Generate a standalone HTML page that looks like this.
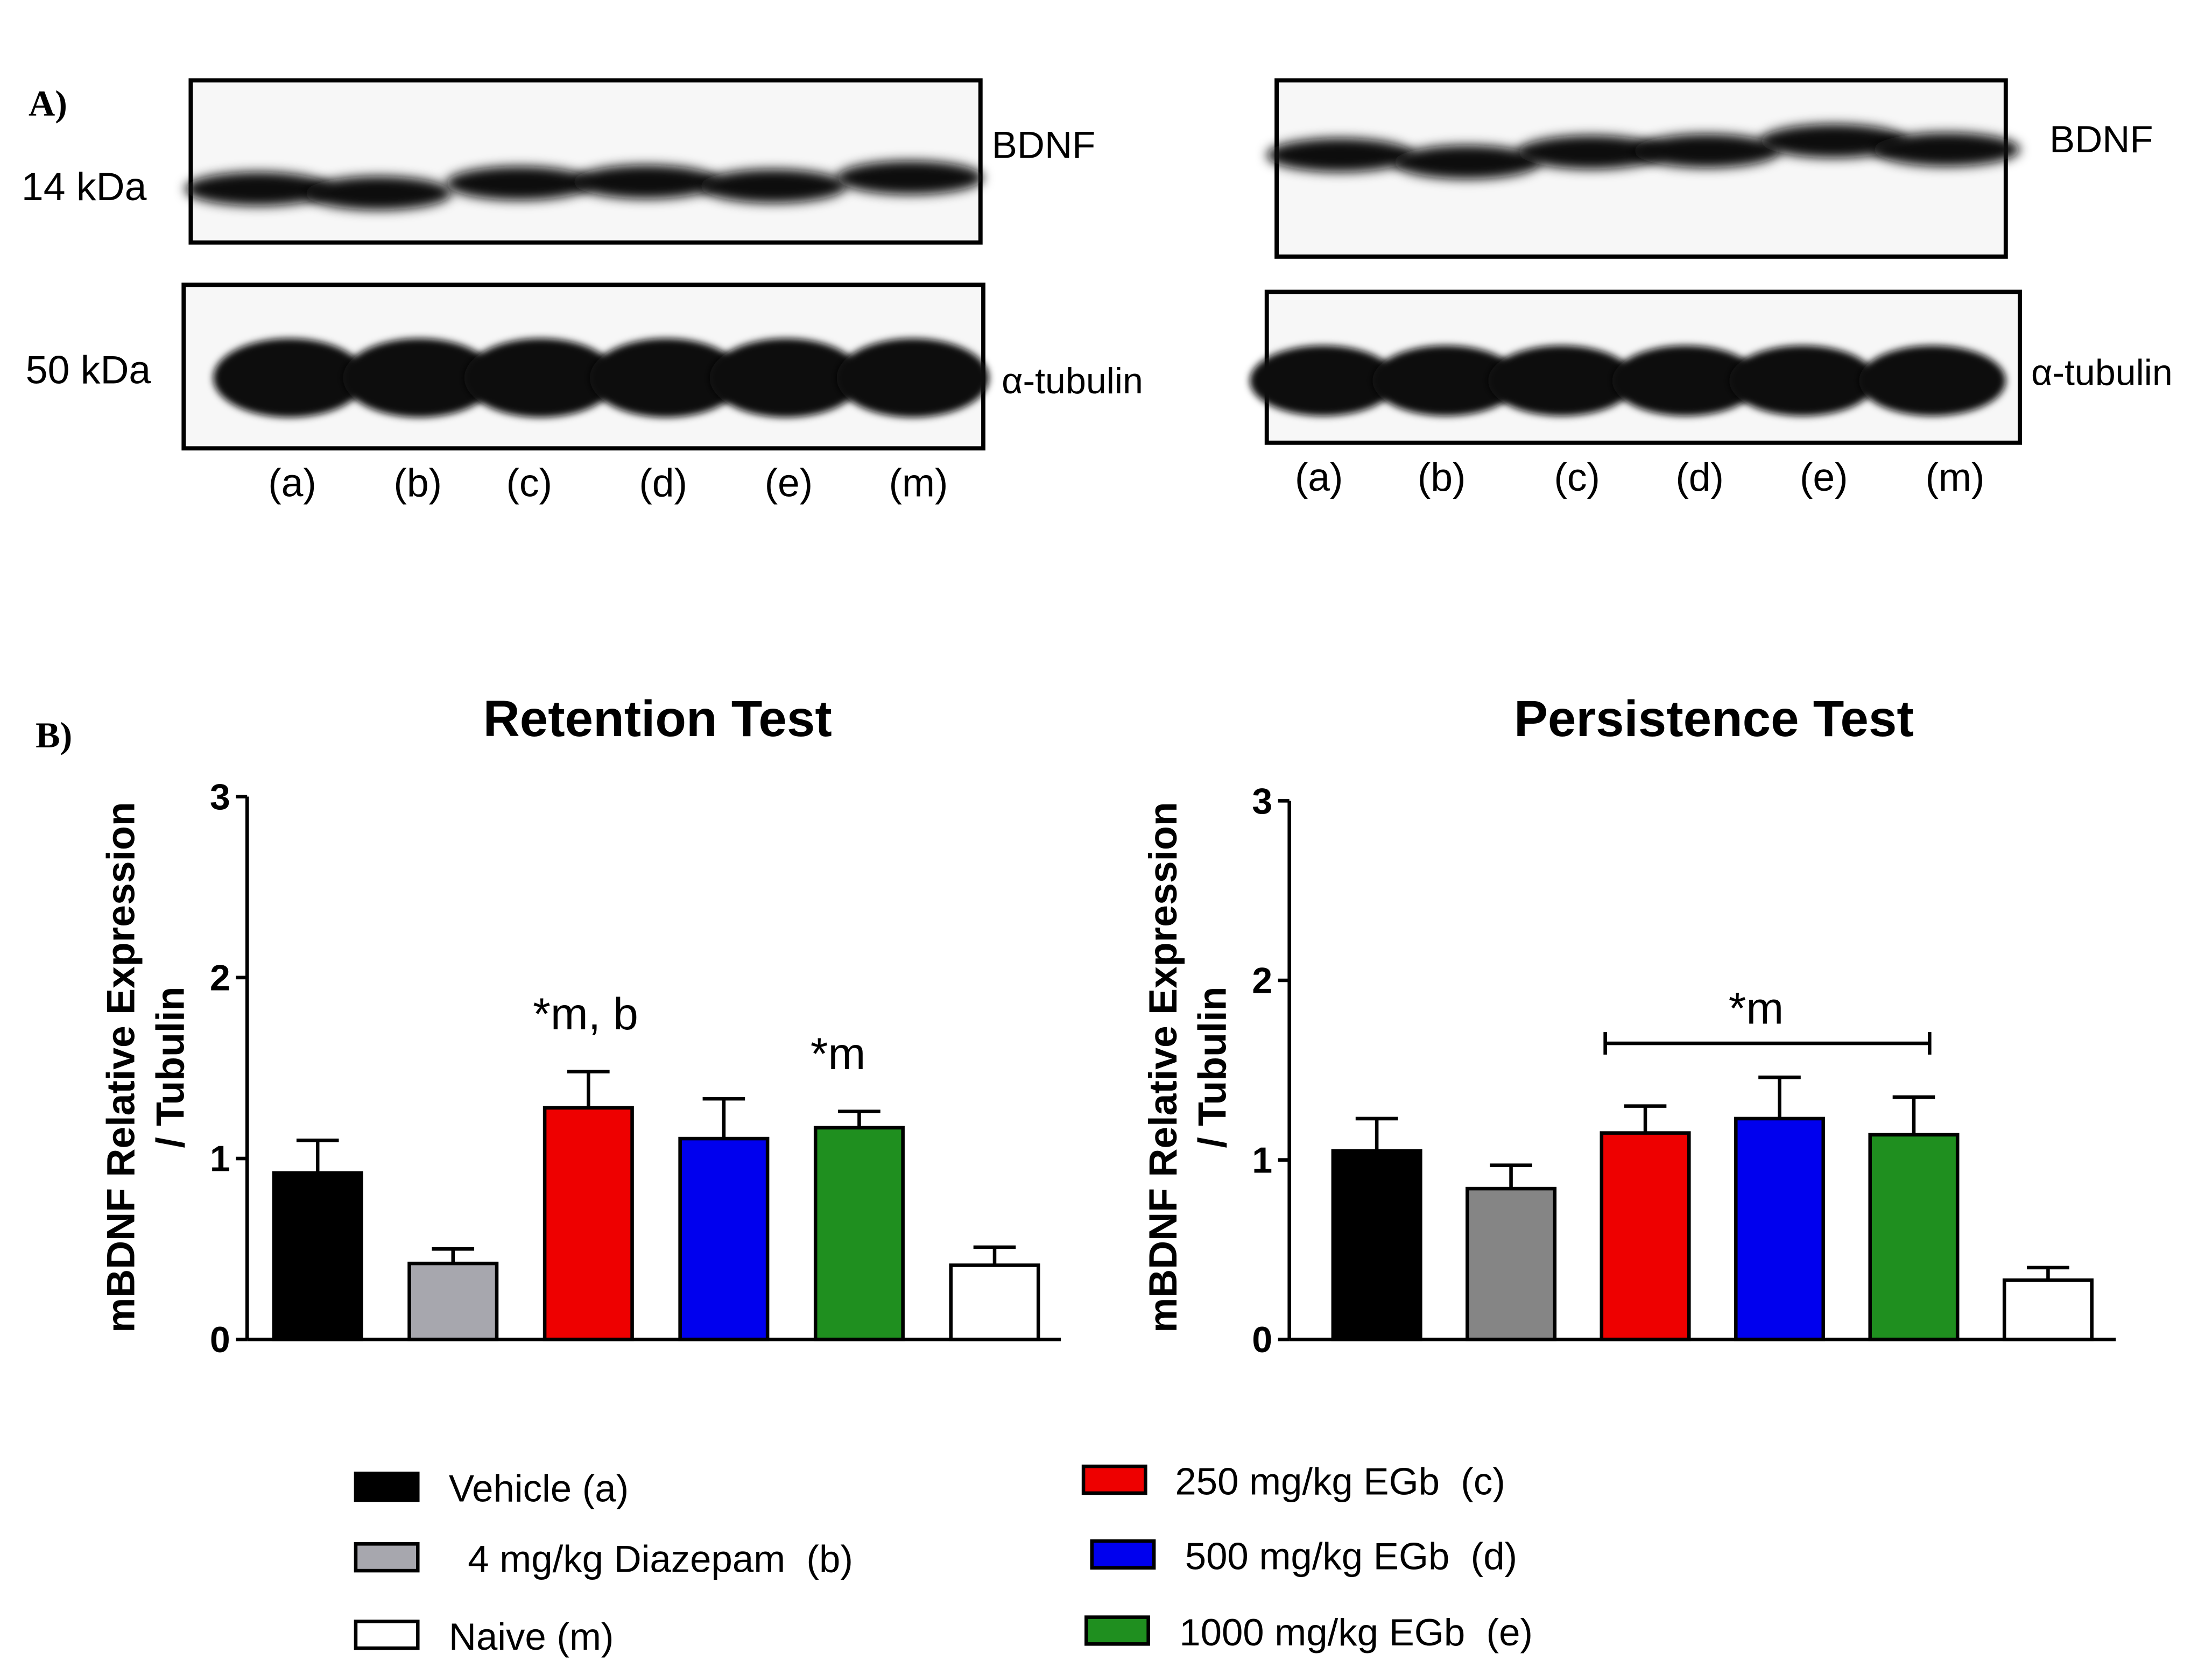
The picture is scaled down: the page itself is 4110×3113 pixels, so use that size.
<!DOCTYPE html>
<html><head><meta charset="utf-8"><style>
html,body{margin:0;padding:0;background:#fff}
svg{display:block}
text{font-family:"Liberation Sans",sans-serif}
</style></head><body>
<svg id="fig" width="4110" height="3113" viewBox="0 0 1568 1188" xmlns="http://www.w3.org/2000/svg">
<defs>
<filter id="blur" x="-20%" y="-80%" width="140%" height="260%"><feGaussianBlur stdDeviation="4"/></filter>
<filter id="blur2" x="-20%" y="-50%" width="140%" height="200%"><feGaussianBlur stdDeviation="2.5"/></filter>
</defs>
<text x="20" y="82" font-weight="bold" font-size="26" style="font-family:'Liberation Serif',serif">A)</text>
<text x="25" y="530" font-weight="bold" font-size="26" style="font-family:'Liberation Serif',serif">B)</text>
<g id="blots"></g>
<g id="charts"></g>
<g id="legend"></g>
</svg>
<script>
const NS='http://www.w3.org/2000/svg';
const groups=['(a)','(b)','(c)','(d)','(e)','(m)'];
const retentionMeans=[0.92,0.42,1.28,1.11,1.17,0.41];
const retentionErr=[0.18,0.08,0.20,0.22,0.09,0.10];
const persistenceMeans=[1.05,0.84,1.15,1.23,1.14,0.33];
const persistenceErr=[0.18,0.13,0.15,0.23,0.21,0.07];
const yTicks=[0,1,2,3];
const leftColors=['#000000','#a7a7ae','#ee0000','#0000ee','#1f8f1f','#ffffff'];
const rightColors=['#000000','#858585','#ee0000','#0000ee','#1f8f1f','#ffffff'];
const legendLabels=['Vehicle (a)',' 4 mg/kg Diazepam  (b)','Naive (m)','250 mg/kg EGb  (c)','500 mg/kg EGb  (d)','1000 mg/kg EGb  (e)'];
const legendColors=['#000000','#a7a7ae','#ffffff','#ee0000','#0000ee','#1f8f1f'];

function mk(tag,attrs,parent,txt){const e=document.createElementNS(NS,tag);for(const k in attrs)e.setAttribute(k,attrs[k]);if(txt!==undefined)e.textContent=txt;parent.appendChild(e);return e;}

const B=document.getElementById('blots');
function blot(x,y,w,h,bands,name,lanes,bandY,bh,rx,dark){
  const g=mk('g',{},B);
  
  
  mk('rect',{x:x,y:y,width:w,height:h,fill:'#f7f7f7',stroke:'#000','stroke-width':3},g);
  lanes.forEach((cx,i)=>{
    const b=mk('ellipse',{cx:cx,cy:bandY+bands[i],rx:rx,ry:bh,fill:'#111',filter:dark?'url(#blur2)':'url(#blur)'},g);
    
    
  });
}
blot(135,57,560,115,[2,5,-2,-3,0,-6],'bdnf-blot-left',[183,268,368,458,548,645],132,12,52,false);
blot(130,202,567,116,[0,0,0,0,0,0],'tubulin-blot-left',[205,297,383,472,557,647],268,28,54,true);
blot(905,57,517,125,[0,5,-2,-3,-10,-4],'bdnf-blot-right',[950,1040,1128,1210,1300,1380],110,12,52,false);
blot(898,207,534,107,[0,0,0,0,0,0],'tubulin-blot-right',[938,1025,1107,1195,1278,1370],270,25,52,true);
function t(x,y,s,size,name,anchor,weight){const e=mk('text',{x:x,y:y,'font-size':size,'text-anchor':anchor||'start','font-weight':weight||'normal'},document.getElementById('fig'),s);return e;}
t(15,142,'14 kDa',28,'mw-14kda');t(18,272,'50 kDa',28,'mw-50kda');
t(703,112,'BDNF',27,'bdnf-label-left');t(710,279,'α-tubulin',26,'tubulin-label-left');
t(1453,108,'BDNF',27,'bdnf-label-right');t(1440,273,'α-tubulin',26,'tubulin-label-right');
[207,296,375,470,559,651].forEach((x,i)=>t(x,352,groups[i],28,'lane-label-left-'+i,'middle'));
[935,1022,1118,1205,1293,1386].forEach((x,i)=>t(x,348,groups[i],28,'lane-label-right-'+i,'middle'));

const C=document.getElementById('charts');
function chart(ax,x0,x1,y0,y3,barX,means,errs,colors,title,titleX,name){
  const g=mk('g',{},C);
  
  
  const ys=v=>y0-(y0-y3)*v/3;
  const bw=62;
  means.forEach((m,i)=>{
    const cx=barX(i);
    const eb=mk('line',{x1:cx,x2:cx,y1:ys(m),y2:ys(m+errs[i]),stroke:'#000','stroke-width':2.5},g);
    
    mk('line',{x1:cx-15,x2:cx+15,y1:ys(m+errs[i]),y2:ys(m+errs[i]),stroke:'#000','stroke-width':2.5},g);
    const r=mk('rect',{x:cx-bw/2,y:ys(m),width:bw,height:y0-ys(m),fill:colors[i],stroke:'#000','stroke-width':2.5},g);
    
  });
  mk('line',{x1:ax,x2:ax,y1:y3,y2:y0,stroke:'#000','stroke-width':2.5},g);
  mk('line',{x1:ax,x2:x1,y1:y0,y2:y0,stroke:'#000','stroke-width':2.5},g);
  yTicks.forEach(v=>{
    mk('line',{x1:ax-8,x2:ax,y1:ys(v),y2:ys(v),stroke:'#000','stroke-width':2.5},g);
    const tl=mk('text',{x:ax-12,y:ys(v)+9,'font-size':26,'font-weight':'bold','text-anchor':'end'},g,String(v));
    
  });
  const tt=mk('text',{x:titleX,y:522,'font-size':36,'font-weight':'bold','text-anchor':'middle'},g,title);
  
  const yt=mk('text',{transform:`translate(${ax-80},757) rotate(-90)`,'font-size':28,'font-weight':'bold','text-anchor':'middle'},g,'mBDNF Relative Expression');
  
  const yt2=mk('text',{transform:`translate(${ax-45},757) rotate(-90)`,'font-size':28,'font-weight':'bold','text-anchor':'middle'},g,'/ Tubulin');
  
  return {ys,g};
}
function ys1(v){return 950-385*v/3;}
const L=chart(175,175,752,950,565,i=>225+96*i,retentionMeans,retentionErr,leftColors,'Retention Test',466,'retention-chart');
const a1=mk('text',{x:415,y:ys1(retentionMeans[2]+retentionErr[2])-30,'font-size':32,'text-anchor':'middle'},L.g,'*m, b');

const a2=mk('text',{x:594,y:ys1(retentionMeans[4]+retentionErr[4])-30,'font-size':32,'text-anchor':'middle'},L.g,'*m');


const R=chart(914,914,1500,950,568,i=>976+95.2*i,persistenceMeans,persistenceErr,rightColors,'Persistence Test',1215,'persistence-chart');
mk('line',{x1:1138,x2:1368,y1:740,y2:740,stroke:'#000','stroke-width':2.5},R.g);
mk('line',{x1:1138,x2:1138,y1:732,y2:748,stroke:'#000','stroke-width':2.5},R.g);
mk('line',{x1:1368,x2:1368,y1:732,y2:748,stroke:'#000','stroke-width':2.5},R.g);
const a3=mk('text',{x:1245,y:726,'font-size':32,'text-anchor':'middle'},R.g,'*m');


const G=document.getElementById('legend');
const legPos=[[252,1045,318],[252,1095,324],[252,1150,318],[768,1040,833],[774,1093,840],[770,1147,836]];
legendLabels.forEach((s,i)=>{
  const [rx,ry,tx]=legPos[i];
  const e=mk('g',{},G);
  
  
  mk('rect',{x:rx,y:ry,width:44,height:19,fill:legendColors[i],stroke:'#000','stroke-width':2.5},e);
  mk('text',{x:tx,y:ry+20,'font-size':27},e,s).style.whiteSpace='pre';
});
</script>
</body></html>
